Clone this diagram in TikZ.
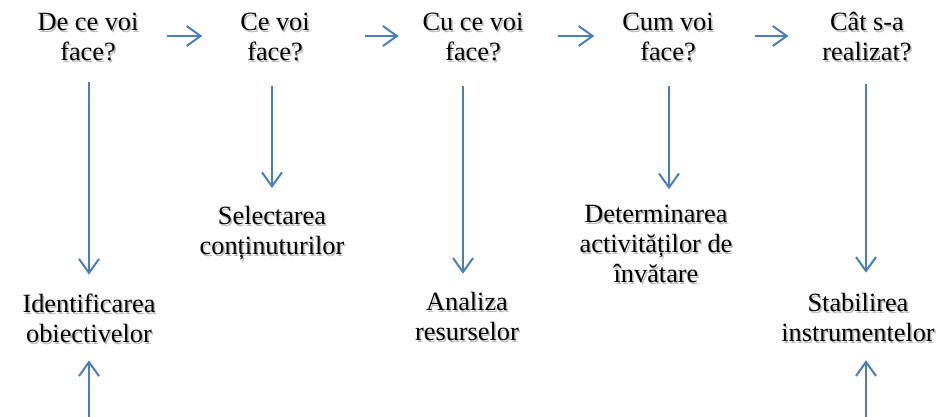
\documentclass[tikz,border=0pt]{standalone}
\usepackage{fontspec}
\setmainfont{Liberation Serif}
\usetikzlibrary{arrows.meta}
\definecolor{arrblue}{HTML}{4A7EBB}
\tikzset{
  txt/.style={inner sep=0pt, outer sep=0pt, align=center, font=\fontsize{26.3}{30}\selectfont},
  shd/.style={txt, text=black!27},
  arr/.style={draw=arrblue, line width=2pt,
    -{Straight Barb[length=14pt,width=20pt,line width=2pt]}}
}
\begin{document}
\begin{tikzpicture}[x=1pt,y=-1pt]
\useasboundingbox (0,0) rectangle (940,417);
% text shadows
\node[shd] (t1s) at (89.5,39)  {De ce voi\\face?};
\node[shd] (t2s) at (276.5,39) {Ce voi\\face?};
\node[shd] (t3s) at (474.5,39) {Cu ce voi\\face?};
\node[shd] (t4s) at (669.5,39) {Cum voi\\face?};
\node[shd] (t5s) at (868.5,39) {Cât s-a\\realizat?};
\node[shd] (b1s) at (90.5,320)  {Identificarea\\obiectivelor};
\node[shd] (b2s) at (273.5,235) {Selectarea\\conținuturilor};
\node[shd] (b3s) at (468.5,319) {Analiza\\resurselor};
\node[shd] (b4s) at (657.5,246) {Determinarea\\activităților de\\înv{ă}tare};
\node[shd] (b5s) at (859.5,320) {Stabilirea\\instrumentelor};
% top row
\node[txt] (t1) at (88,37)  {De ce voi\\face?};
\node[txt] (t2) at (275,37) {Ce voi\\face?};
\node[txt] (t3) at (473,37) {Cu ce voi\\face?};
\node[txt] (t4) at (668,37) {Cum voi\\face?};
\node[txt] (t5) at (867,37) {Cât s-a\\realizat?};
% second row
\node[txt] (b1) at (89,318)  {Identificarea\\obiectivelor};
\node[txt] (b2) at (272,233) {Selectarea\\conținuturilor};
\node[txt] (b3) at (467,317) {Analiza\\resurselor};
\node[txt] (b4) at (656,244) {Determinarea\\activităților de\\înv{ă}tare};
\node[txt] (b5) at (858,318) {Stabilirea\\instrumentelor};
% free ends at bottom
\coordinate (e1) at (89,417);
\coordinate (e5) at (866,417);
% horizontal arrows
\draw[arr, shorten <=29pt, shorten >=38pt] ([yshift=1pt]t1.east) -- ([yshift=1pt]t1.east -| t2.west);
\draw[arr, shorten <=55pt, shorten >=24pt] ([yshift=1pt]t2.east) -- ([yshift=1pt]t2.east -| t3.west);
\draw[arr, shorten <=35pt, shorten >=28pt] ([yshift=1pt]t3.east) -- ([yshift=1pt]t3.east -| t4.west);
\draw[arr, shorten <=41pt, shorten >=34pt] ([yshift=1pt]t4.east) -- ([yshift=1pt]t4.east -| t5.west);
% vertical arrows
\draw[arr, shorten <=21pt, shorten >=19pt] ([xshift=1pt]t1.south) -- ([xshift=1pt]t1.south |- b1.north);
\draw[arr, shorten <=25pt, shorten >=18pt] (b2.north |- t2.south) -- (b2.north);
\draw[arr, shorten <=25pt, shorten >=19pt] ([xshift=-4pt]b3.north |- t3.south) -- ([xshift=-4pt]b3.north);
\draw[arr, shorten <=25pt, shorten >=16pt] ([xshift=1pt]t4.south) -- ([xshift=1pt]t4.south |- b4.north);
\draw[arr, shorten <=23pt, shorten >=21pt] ([xshift=-1pt]t5.south) -- ([xshift=-1pt]t5.south |- b5.north);
% bottom arrows
\draw[arr, shorten >=18pt] (e1) -- (e1 |- b1.south);
\draw[arr, shorten >=18pt] (e5) -- (e5 |- b5.south);
\end{tikzpicture}
\end{document}
